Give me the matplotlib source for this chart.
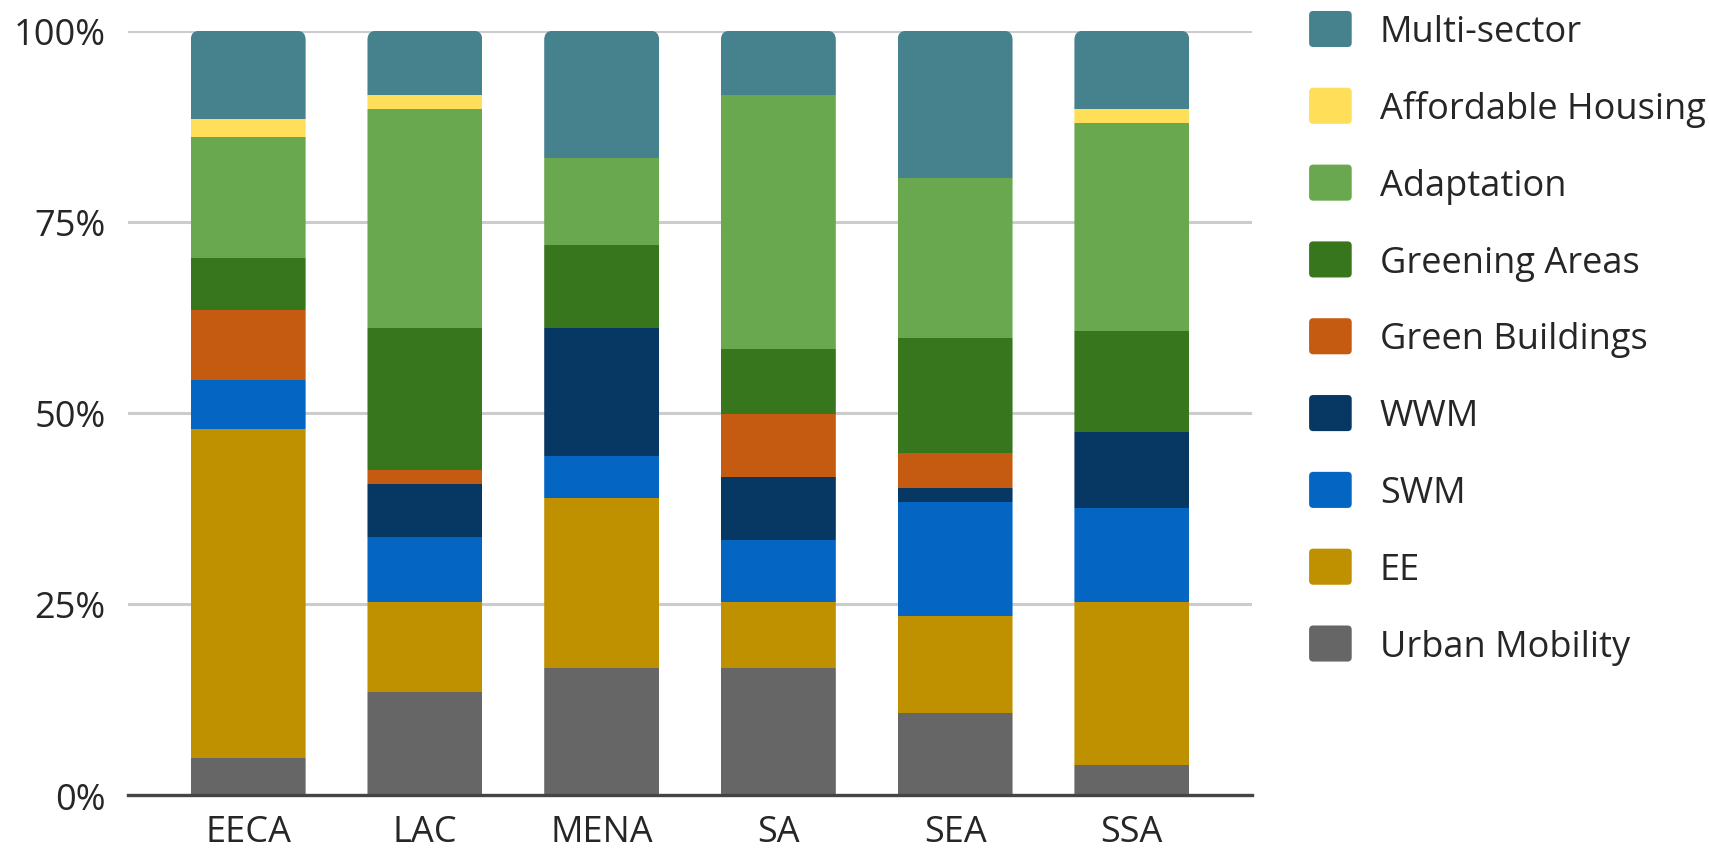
import matplotlib
matplotlib.use("Agg")
import matplotlib.pyplot as plt
from matplotlib.patches import FancyBboxPatch, Patch
from matplotlib.legend_handler import HandlerPatch
import numpy as np

plt.rcParams['font.family'] = ['Open Sans', 'DejaVu Sans']

regions = ['EECA', 'LAC', 'MENA', 'SA', 'SEA', 'SSA']

# share of each sector per region (%), bottom to top
urban_mobility = [4.8, 13.5, 16.6, 16.6, 10.7, 3.9]
ee = [43.1, 11.7, 22.3, 8.6, 12.7, 21.3]
swm = [6.4, 8.6, 5.4, 8.2, 15.0, 12.3]
wwm = [0.0, 6.9, 16.8, 8.2, 1.8, 10.0]
green_buildings = [9.1, 1.8, 0.0, 8.2, 4.5, 0.0]
greening_areas = [6.8, 18.6, 10.9, 8.6, 15.1, 13.2]
adaptation = [15.9, 28.6, 11.4, 33.2, 20.9, 27.2]
affordable_housing = [2.3, 1.9, 0.0, 0.0, 0.0, 1.8]
multi_sector = [11.6, 8.4, 16.6, 8.4, 19.3, 10.3]

series = [
    ('Urban Mobility', urban_mobility, '#666666'),
    ('EE', ee, '#BF9000'),
    ('SWM', swm, '#0565C3'),
    ('WWM', wwm, '#073763'),
    ('Green Buildings', green_buildings, '#C55A11'),
    ('Greening Areas', greening_areas, '#38761D'),
    ('Adaptation', adaptation, '#6AA84F'),
    ('Affordable Housing', affordable_housing, '#FFDE59'),
    ('Multi-sector', multi_sector, '#46818E'),
]

text_color = '#262626'
bar_width = 0.65
font_size = 26

fig = plt.figure(figsize=(17.09, 8.54), dpi=100)
ax = fig.add_axes([0.0749, 0.0679, 0.6577, 0.895])

x = np.arange(len(regions))
ax.set_xlim(-0.68, len(regions) - 1 + 0.68)
ax.set_ylim(0, 100)

# clip paths to round the top corners of each stacked bar
px_per_x = 0.6577 * 1709 / (len(regions) - 1 + 1.36)
px_per_y = 0.895 * 854 / 100
clips = []
for xi in x:
    clip = FancyBboxPatch((xi - bar_width / 2, -20), bar_width, 120,
                          boxstyle='round,pad=0,rounding_size=%f' % (9 / px_per_x),
                          mutation_aspect=px_per_x / px_per_y,
                          transform=ax.transData)
    clips.append(clip)

bottom = np.zeros(len(regions))
handles = []
for name, vals, color in series:
    vals = np.array(vals)
    bars = ax.bar(x, vals, bar_width, bottom=bottom, color=color, linewidth=0, zorder=3)
    for bar, clip in zip(bars, clips):
        bar.set_clip_path(clip)
    bottom += vals
    handles.append(Patch(facecolor=color, label=name))

ax.set_yticks([0, 25, 50, 75, 100])
ax.set_yticklabels(['0%', '25%', '50%', '75%', '100%'])
ax.set_xticks(x)
ax.set_xticklabels(regions)
ax.tick_params(axis='both', length=0, labelsize=font_size, colors=text_color)
ax.tick_params(axis='y', pad=16)
ax.tick_params(axis='x', pad=14)

ax.grid(axis='y', color='#CCCCCC', linewidth=2.2, zorder=0)
ax.set_axisbelow(True)
for s in ['top', 'right', 'left']:
    ax.spines[s].set_visible(False)
ax.spines['bottom'].set_color('#444444')
ax.spines['bottom'].set_linewidth(2.4)
ax.spines['bottom'].set_zorder(5)


class RoundHandler(HandlerPatch):
    def create_artists(self, legend, orig_handle, xdescent, ydescent, width, height, fontsize, trans):
        p = FancyBboxPatch((-xdescent, -ydescent), width, height,
                           boxstyle='round,pad=0,rounding_size=3',
                           facecolor=orig_handle.get_facecolor(), edgecolor='none',
                           transform=trans)
        return [p]


leg = fig.legend(handles[::-1], [h.get_label() for h in handles[::-1]],
                 loc='upper left', bbox_to_anchor=(0.766, 0.986),
                 frameon=False, fontsize=font_size, labelcolor=text_color,
                 handlelength=1.18, handleheight=1.16, handletextpad=0.78,
                 labelspacing=1.04, borderpad=0, borderaxespad=0,
                 handler_map={Patch: RoundHandler()})

fig.savefig('out.png', dpi=100)
